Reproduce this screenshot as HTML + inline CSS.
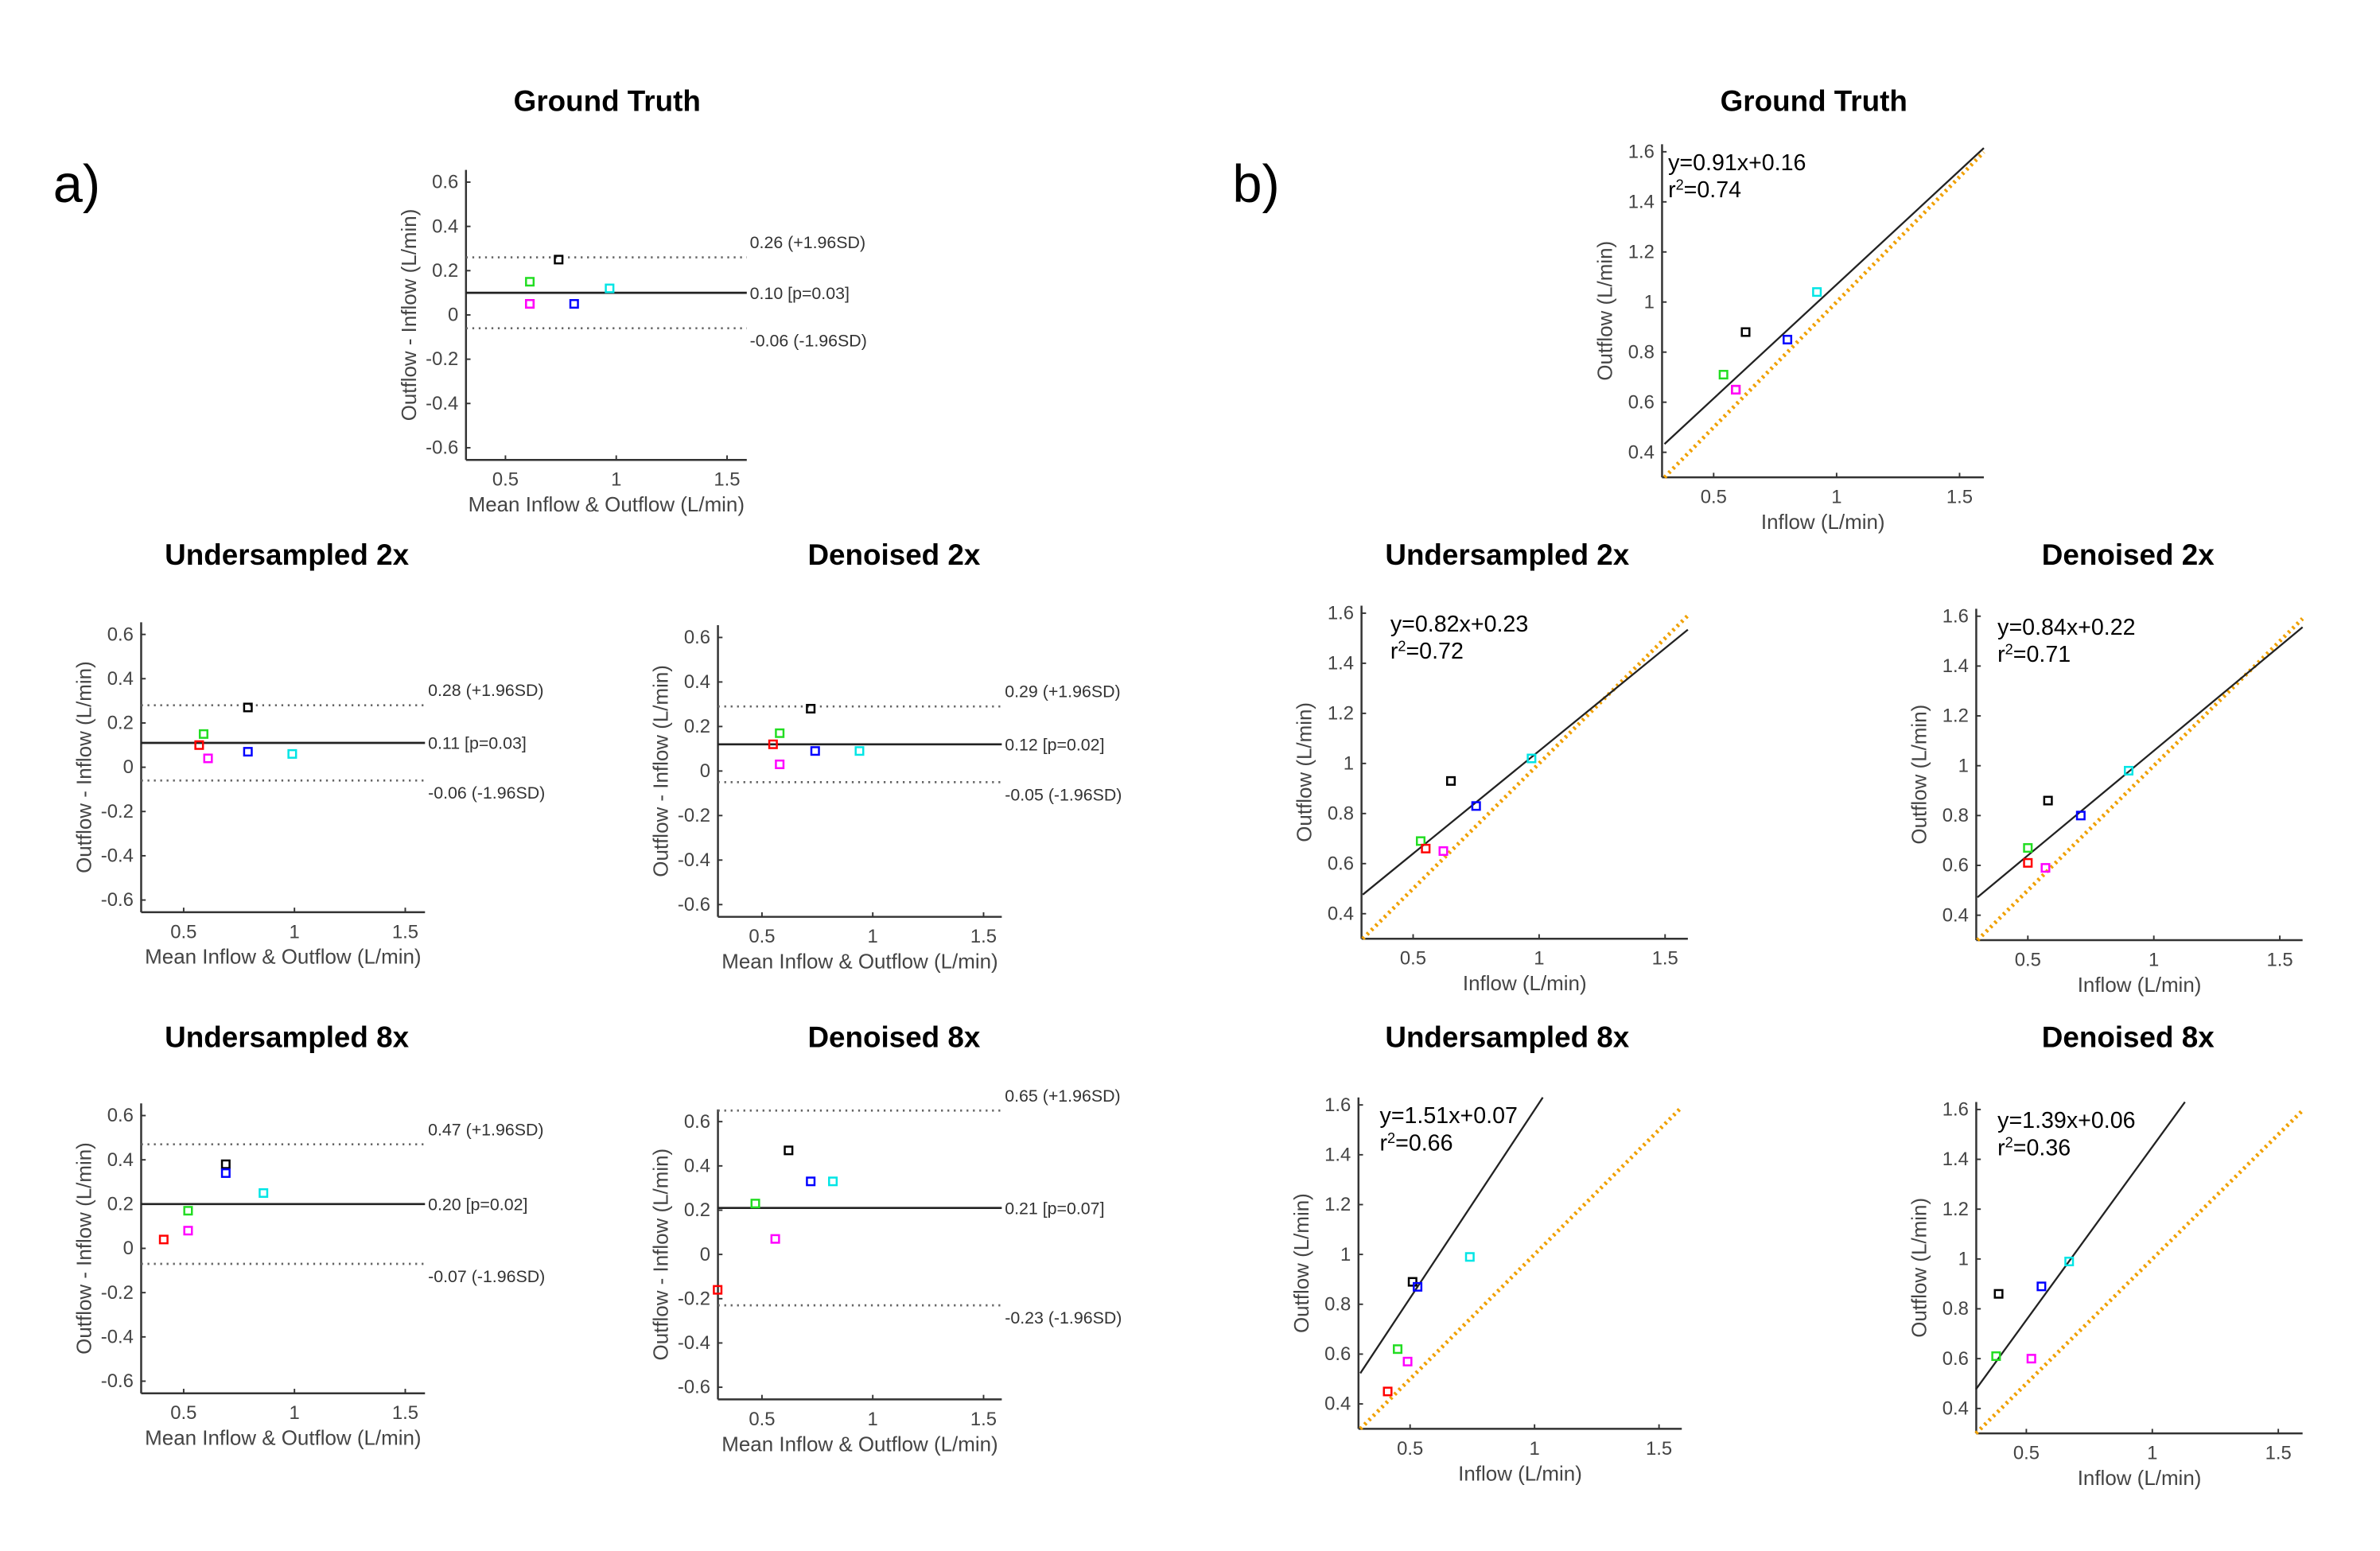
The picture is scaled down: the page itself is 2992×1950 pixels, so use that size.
<!DOCTYPE html>
<html><head><meta charset="utf-8"><style>
html,body{margin:0;padding:0;background:#fff;}
svg{display:block;}
text{font-family:"Liberation Sans",Arial,sans-serif;}
</style></head>
<body>
<svg id="fig" width="2992" height="1950" viewBox="0 0 1568 1021.9" preserveAspectRatio="none" xmlns="http://www.w3.org/2000/svg">
<text x="35" y="133" font-size="35">a)</text>
<text x="812" y="133" font-size="35">b)</text>
</svg>
<script>
const colors = ['#000000','#22dd22','#ff0000','#ff00ff','#0000ff','#00e5e5'];
const colorNames = ['black','green','red','magenta','blue','cyan'];

// Bland-Altman data (mean, diff) per panel
const baGTMean = [0.74,0.61,0.61,0.61,0.81,0.97];
const baGTDiff = [0.25,0.15,0.05,0.05,0.05,0.12];
const baGTLines = [0.26,0.10,-0.06];
const baGTLabels = ['0.26 (+1.96SD)','0.10 [p=0.03]','-0.06 (-1.96SD)'];

const baU2Mean = [0.79,0.59,0.57,0.61,0.79,0.99];
const baU2Diff = [0.27,0.15,0.10,0.04,0.07,0.06];
const baU2Lines = [0.28,0.11,-0.06];
const baU2Labels = ['0.28 (+1.96SD)','0.11 [p=0.03]','-0.06 (-1.96SD)'];

const baD2Mean = [0.72,0.58,0.55,0.58,0.74,0.94];
const baD2Diff = [0.28,0.17,0.12,0.03,0.09,0.09];
const baD2Lines = [0.29,0.12,-0.05];
const baD2Labels = ['0.29 (+1.96SD)','0.12 [p=0.02]','-0.05 (-1.96SD)'];

const baU8Mean = [0.69,0.52,0.41,0.52,0.69,0.86];
const baU8Diff = [0.38,0.17,0.04,0.08,0.34,0.25];
const baU8Lines = [0.47,0.20,-0.07];
const baU8Labels = ['0.47 (+1.96SD)','0.20 [p=0.02]','-0.07 (-1.96SD)'];

const baD8Mean = [0.62,0.47,0.30,0.56,0.72,0.82];
const baD8Diff = [0.47,0.23,-0.16,0.07,0.33,0.33];
const baD8Lines = [0.65,0.21,-0.23];
const baD8Labels = ['0.65 (+1.96SD)','0.21 [p=0.07]','-0.23 (-1.96SD)'];

// Regression data (inflow, outflow)
const rgGTIn = [0.63,0.54,0.59,0.59,0.80,0.92];
const rgGTOut = [0.88,0.71,0.65,0.65,0.85,1.04];
const rgGTFit = [0.91,0.16];
const rgGTText = ['y=0.91x+0.16','0.74'];

const rgU2In = [0.65,0.53,0.55,0.62,0.75,0.97];
const rgU2Out = [0.93,0.69,0.66,0.65,0.83,1.02];
const rgU2Fit = [0.82,0.23];
const rgU2Text = ['y=0.82x+0.23','0.72'];

const rgD2In = [0.58,0.50,0.50,0.57,0.71,0.90];
const rgD2Out = [0.86,0.67,0.61,0.59,0.80,0.98];
const rgD2Fit = [0.84,0.22];
const rgD2Text = ['y=0.84x+0.22','0.71'];

const rgU8In = [0.51,0.45,0.41,0.49,0.53,0.74];
const rgU8Out = [0.89,0.62,0.45,0.57,0.87,0.99];
const rgU8Fit = [1.51,0.07];
const rgU8Text = ['y=1.51x+0.07','0.66'];

const rgD8In = [0.39,0.38,null,0.52,0.56,0.67];
const rgD8Out = [0.86,0.61,null,0.60,0.89,0.99];
const rgD8Fit = [1.39,0.06];
const rgD8Text = ['y=1.39x+0.06','0.36'];

const baYTicks = [0.6,0.4,0.2,0,-0.2,-0.4,-0.6];
const baYTickLabels = ['0.6','0.4','0.2','0','-0.2','-0.4','-0.6'];
const rgYTicks = [1.6,1.4,1.2,1,0.8,0.6,0.4];
const rgYTickLabels = ['1.6','1.4','1.2','1','0.8','0.6','0.4'];
const xTicks = [0.5,1,1.5];
const xTickLabels = ['0.5','1','1.5'];

const NS='http://www.w3.org/2000/svg';
const svg=document.getElementById('fig');
function mk(tag,attrs,parent){const e=document.createElementNS(NS,tag);for(const k in attrs)e.setAttribute(k,attrs[k]);(parent||svg).appendChild(e);return e;}

function axesFrame(g,L,R,T,B,xs,ys,yt,ytl,ylabel,xlabel){
  const ax=mk('line',{x1:L,y1:B,x2:R,y2:B,stroke:'#333','stroke-width':1.3},g);
  
  const ay=mk('line',{x1:L,y1:T,x2:L,y2:B,stroke:'#333','stroke-width':1.3},g);
  
  yt.forEach((v,i)=>{const y=ys(v);
    mk('line',{x1:L,y1:y,x2:L+3,y2:y,stroke:'#333','stroke-width':1},g);
    const t=mk('text',{x:L-5,y:y+4,'font-size':12.5,'text-anchor':'end',fill:'#444'},g);t.textContent=ytl[i];
    });
  xTicks.forEach((v,i)=>{const x=xs(v);
    mk('line',{x1:x,y1:B,x2:x,y2:B-3,stroke:'#333','stroke-width':1},g);
    const t=mk('text',{x:x,y:B+17,'font-size':12.5,'text-anchor':'middle',fill:'#444'},g);t.textContent=xTickLabels[i];
    });
  const xl=mk('text',{x:(L+R)/2,y:B+34,'font-size':13.6,'text-anchor':'middle',fill:'#444'},g);xl.textContent=xlabel;
  
  const cy=(T+B)/2, cx=L-33;
  const yl=mk('text',{x:cx,y:cy,'font-size':13.6,'text-anchor':'middle',fill:'#444',transform:`rotate(-90 ${cx} ${cy})`},g);yl.textContent=ylabel;
  
}
function title(text,x,y){const t=mk('text',{x:x,y:y,'font-size':19.3,'font-weight':'bold','text-anchor':'middle'});t.textContent=text;
  }
function markers(g,xs,ys,X,Y){
  X.forEach((v,i)=>{if(v===null)return;
    const r=mk('rect',{x:xs(v)-2.5,y:ys(Y[i])-2.5,width:5,height:5,fill:'none',stroke:colors[i],'stroke-width':1.3},g);
    });
}

function baPanel(name,L,R,y06,yn06,x05,x1,X,Y,lines,labels,ttl,ttlX,ttlY){
  const g=mk('g',{});
  const ys=v=>y06+(0.6-v)*(yn06-y06)/1.2;
  const xs=v=>x05+(v-0.5)*(x1-x05)/0.5;
  const T=ys(0.655), B=ys(-0.655);
  axesFrame(g,L,R,T,B,xs,ys,baYTicks,baYTickLabels,'Outflow - Inflow (L/min)','Mean Inflow & Outflow (L/min)');
  lines.forEach((v,i)=>{const y=ys(v);
    const l=mk('line',{x1:L,y1:y,x2:R,y2:y,stroke:i==1?'#222':'#666','stroke-width':1.4,'stroke-dasharray':i==1?'':'1.2 3'},g);
    
    const dy=i==0?-6:(i==2?12:4);
    const t=mk('text',{x:R+2,y:y+dy,'font-size':11.2,fill:'#333'},g);t.textContent=labels[i];
    });
  markers(g,xs,ys,X,Y);
  title(ttl,ttlX,ttlY);
}

function rgPanel(name,L,R,y16,y04,x05,x1,X,Y,fit,txt,ttl,ttlX,ttlY,txtOff){
  const g=mk('g',{});
  const ys=v=>y16+(1.6-v)*(y04-y16)/1.2;
  const xs=v=>x05+(v-0.5)*(x1-x05)/0.5;
  const xmin=0.3, xmax=0.5+(R-x05)/(x1-x05)*0.5;
  const ymin=0.3, ymax=1.63;
  const T=ys(ymax), B=ys(ymin);
  axesFrame(g,L,R,T,B,xs,ys,rgYTicks,rgYTickLabels,'Outflow (L/min)','Inflow (L/min)');
  const idEnd=Math.min(xmax,ymax);
  const id=mk('line',{x1:xs(0.3),y1:ys(0.3),x2:xs(idEnd),y2:ys(idEnd),stroke:'#f0a000','stroke-width':2.6,'stroke-dasharray':'1.5 2.5'},g);
  
  let xa=xmin, ya=fit[0]*xa+fit[1];
  if(ya<ymin){xa=(ymin-fit[1])/fit[0];ya=ymin;}
  let xb=xmax, yb=fit[0]*xb+fit[1];
  if(yb>ymax){xb=(ymax-fit[1])/fit[0];yb=ymax;}
  const fl=mk('line',{x1:xs(xa),y1:ys(ya),x2:xs(xb),y2:ys(yb),stroke:'#222','stroke-width':1.2},g);
  
  markers(g,xs,ys,X,Y);
  const t1=mk('text',{x:L+txtOff,y:T+17,'font-size':15},g);t1.textContent=txt[0];
  
  const t2=mk('text',{x:L+txtOff,y:T+35,'font-size':15},g);
  
  const a=mk('tspan',{},t2);a.textContent='r';
  const b=mk('tspan',{'font-size':9.5,dy:-5},t2);b.textContent='2';
  const c=mk('tspan',{dy:5},t2);c.textContent='='+txt[1];
  title(ttl,ttlX,ttlY);
}

baPanel('ba-ground-truth',307,492,120,295,333,406,baGTMean,baGTDiff,baGTLines,baGTLabels,'Ground Truth',400,73);
baPanel('ba-undersampled-2x',93,280,418,593,121,194,baU2Mean,baU2Diff,baU2Lines,baU2Labels,'Undersampled 2x',189,372);
baPanel('ba-denoised-2x',473,660,420,596,502,575,baD2Mean,baD2Diff,baD2Lines,baD2Labels,'Denoised 2x',589,372);
baPanel('ba-undersampled-8x',93,280,735,910,121,194,baU8Mean,baU8Diff,baU8Lines,baU8Labels,'Undersampled 8x',189,690);
baPanel('ba-denoised-8x',473,660,739,914,502,575,baD8Mean,baD8Diff,baD8Lines,baD8Labels,'Denoised 8x',589,690);

rgPanel('reg-ground-truth',1095,1307,100,298,1129,1210,rgGTIn,rgGTOut,rgGTFit,rgGTText,'Ground Truth',1195,73,4);
rgPanel('reg-undersampled-2x',897,1112,404,602,931,1014,rgU2In,rgU2Out,rgU2Fit,rgU2Text,'Undersampled 2x',993,372,19);
rgPanel('reg-denoised-2x',1302,1517,406,603,1336,1419,rgD2In,rgD2Out,rgD2Fit,rgD2Text,'Denoised 2x',1402,372,14);
rgPanel('reg-undersampled-8x',895,1108,728,925,929,1011,rgU8In,rgU8Out,rgU8Fit,rgU8Text,'Undersampled 8x',993,690,14);
rgPanel('reg-denoised-8x',1302,1517,731,928,1335,1418,rgD8In,rgD8Out,rgD8Fit,rgD8Text,'Denoised 8x',1402,690,14);
</script>
</body></html>
